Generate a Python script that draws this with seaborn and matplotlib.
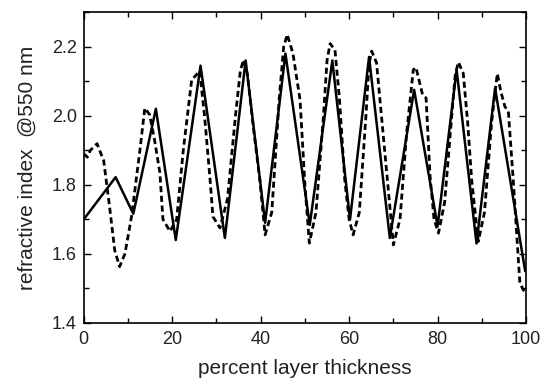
import numpy as np
import pandas as pd
import matplotlib
matplotlib.use("Agg")
import matplotlib.pyplot as plt
import seaborn as sns
from matplotlib.ticker import MultipleLocator

# solid line (model profile)
solid_x = [0, 7.2, 11.2, 16.3, 20.8, 26.4, 31.9, 36.6, 41.0, 45.6, 51.1, 56.2,
           60.2, 64.5, 69.2, 74.7, 80.0, 84.3, 88.8, 93.0, 99.8]
solid_y = [1.70, 1.822, 1.716, 2.02, 1.64, 2.145, 1.646, 2.16, 1.69, 2.18, 1.684, 2.16,
           1.70, 2.17, 1.646, 2.075, 1.68, 2.133, 1.63, 2.08, 1.55]

# dashed line (measured profile)
dash_x = [0, 0.8, 1.5, 3.0, 4.5, 5.8, 7.0, 8.1, 9.3, 10.8, 12.7, 13.8, 14.9, 16.0,
          17.2, 17.9, 19.5, 21.0, 22.5, 24.4, 25.5, 26.2, 27.3, 28.5, 29.2, 30.8,
          32.5, 34.3, 35.4, 36.1, 37.0, 38.3, 39.8, 41.0, 42.5, 44.2, 45.2, 46.0, 47.3,
          48.9, 50.0, 51.0, 52.5, 54.2, 55.0, 55.7, 56.8, 57.8, 59.0, 60.0, 60.9, 62.3,
          63.8, 64.5, 65.1, 66.2, 67.3, 68.5, 70.0, 71.5, 73.0, 74.5, 75.1, 76.6, 77.4,
          78.3, 79.2, 80.2, 81.6, 83.2, 84.0, 84.7, 85.8, 86.8, 87.7, 89.2, 90.6, 92.2,
          93.5, 94.3, 95.2, 96.0, 97.1, 98.6, 99.8]
dash_y = [1.89, 1.88, 1.90, 1.919, 1.87, 1.74, 1.61, 1.563, 1.60, 1.708, 1.901, 2.022, 2.003, 1.93,
          1.835, 1.70, 1.665, 1.70, 1.90, 2.104, 2.119, 2.13, 2.00, 1.824, 1.708, 1.675,
          1.76, 2.00, 2.13, 2.162, 2.12, 1.97, 1.815, 1.655, 1.72, 2.05, 2.20, 2.235, 2.18,
          2.046, 1.80, 1.631, 1.72, 2.00, 2.16, 2.209, 2.19, 2.05, 1.815, 1.70, 1.655, 1.72,
          2.00, 2.15, 2.187, 2.153, 2.00, 1.835, 1.626, 1.70, 1.95, 2.133, 2.14, 2.061, 2.051,
          1.824, 1.70, 1.66, 1.75, 2.00, 2.12, 2.155, 2.123, 1.98, 1.815, 1.636, 1.72, 1.98,
          2.122, 2.07, 2.027, 2.012, 1.815, 1.515, 1.486]

sns.set_style("ticks")
plt.rcParams['font.family'] = ['Liberation Sans', 'DejaVu Sans']

fig = plt.figure(figsize=(5.44, 3.79), dpi=100)
ax = fig.add_axes([0.154, 0.148, 0.813, 0.820])

df_s = pd.DataFrame({"x": solid_x, "y": solid_y})
df_d = pd.DataFrame({"x": dash_x, "y": dash_y})
sns.lineplot(data=df_s, x="x", y="y", ax=ax, color="black", lw=1.8, sort=False)
sns.lineplot(data=df_d, x="x", y="y", ax=ax, color="black", lw=2.0, sort=False,
             linestyle=(0, (2.2, 1.3)))

ax.set_xlim(0, 100)
ax.set_ylim(1.4, 2.3)
ax.xaxis.set_major_locator(MultipleLocator(20))
ax.xaxis.set_minor_locator(MultipleLocator(10))
ax.yaxis.set_minor_locator(MultipleLocator(0.1))
ax.set_yticks([1.4, 1.6, 1.8, 2.0, 2.2])
ax.set_yticklabels(["1.4", "1.6", "1.8", "2.0", "2.2"])
ax.tick_params(which="both", direction="in", top=True, right=True, labelsize=13,
               color="black", labelcolor="#222222", width=1)
ax.tick_params(which="major", length=5)
ax.tick_params(axis="x", which="major", pad=6)
ax.tick_params(axis="y", which="major", pad=5)
ax.tick_params(which="minor", length=3.5)
for s in ax.spines.values():
    s.set_color("black")
    s.set_linewidth(1.2)
ax.set_xlabel("percent layer thickness", fontsize=15, color="#222222", labelpad=8)
ax.set_ylabel("refractive index  @550 nm", fontsize=15, color="#222222", labelpad=11)

fig.savefig("out.png", dpi=100)
